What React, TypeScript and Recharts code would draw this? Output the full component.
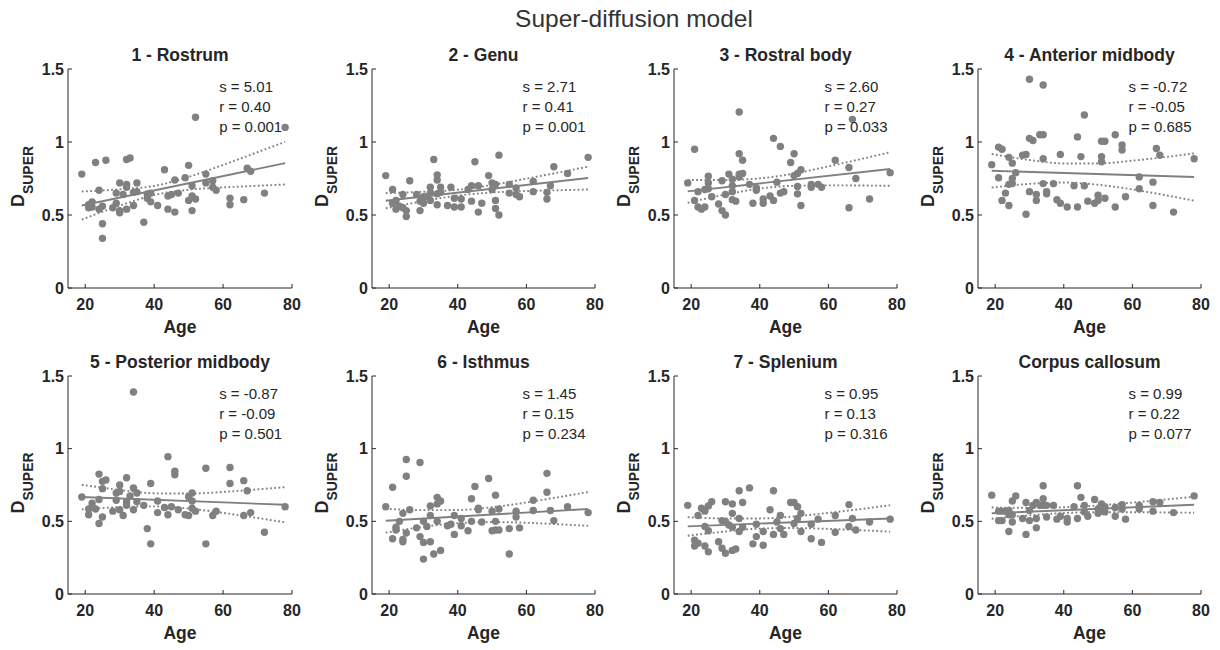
import { ComposedChart, Line, Scatter, XAxis, YAxis } from 'recharts';

const FONT = '"Liberation Sans", Arial, Helvetica, sans-serif';
const INK = '#262626';
const GREY = '#808080';

const ageTicks = [20, 40, 60, 80];
const dTicks = [0, 0.5, 1, 1.5];
const fitAges = [19, 78];
const ciAges = [19, 30, 40, 50, 60, 70, 78];

// scatter points, [age, D_SUPER]
const rostrum = [[19,0.78],[21,0.57],[21,0.55],[22,0.59],[22,0.555],[23,0.86],[24,0.67],[24,0.54],[25,0.56],[25,0.44],[25,0.34],[26,0.875],[28,0.55],[29,0.65],[29,0.58],[30,0.72],[30,0.53],[30,0.515],[31,0.64],[32,0.88],[32,0.71],[32,0.69],[32,0.54],[33,0.89],[34,0.655],[34,0.565],[35,0.72],[35,0.66],[37,0.45],[38,0.645],[38,0.615],[39,0.65],[39,0.59],[41,0.565],[43,0.81],[44,0.63],[44,0.54],[45,0.64],[46,0.74],[46,0.52],[47,0.65],[49,0.755],[50,0.84],[50,0.6],[51,0.7],[51,0.63],[51,0.53],[52,1.17],[52,0.61],[55,0.78],[55,0.72],[57,0.735],[57,0.69],[58,0.67],[62,0.615],[62,0.57],[66,0.605],[67,0.82],[68,0.8],[72,0.65],[78,1.1]];
const genu = [[19,0.77],[21,0.675],[21,0.58],[22,0.6],[22,0.54],[23,0.56],[24,0.64],[24,0.55],[25,0.53],[25,0.49],[26,0.735],[28,0.64],[29,0.595],[29,0.53],[30,0.625],[30,0.58],[31,0.625],[32,0.69],[32,0.65],[32,0.6],[33,0.88],[34,0.775],[34,0.74],[34,0.645],[34,0.57],[35,0.69],[35,0.655],[37,0.565],[38,0.69],[39,0.615],[39,0.555],[41,0.61],[41,0.555],[43,0.675],[44,0.7],[44,0.595],[45,0.865],[46,0.7],[46,0.52],[47,0.58],[49,0.77],[50,0.72],[50,0.675],[51,0.71],[51,0.6],[51,0.545],[52,0.91],[52,0.5],[55,0.71],[55,0.65],[57,0.685],[57,0.64],[58,0.625],[62,0.73],[62,0.66],[66,0.655],[66,0.61],[67,0.7],[68,0.83],[72,0.785],[78,0.895]];
const rostralBody = [[19,0.72],[21,0.95],[21,0.6],[22,0.66],[22,0.555],[23,0.54],[24,0.675],[24,0.555],[25,0.765],[25,0.72],[25,0.68],[26,0.625],[28,0.575],[29,0.735],[29,0.53],[30,0.64],[30,0.5],[31,0.78],[32,0.745],[32,0.7],[32,0.66],[32,0.605],[33,0.595],[34,1.205],[34,0.92],[34,0.78],[34,0.76],[35,0.875],[35,0.785],[37,0.71],[38,0.58],[39,0.685],[39,0.67],[41,0.61],[41,0.58],[43,0.63],[44,1.025],[44,0.6],[45,0.725],[46,0.97],[46,0.65],[47,0.66],[49,0.86],[50,0.92],[50,0.77],[51,0.785],[51,0.695],[51,0.645],[52,0.81],[52,0.565],[55,0.71],[55,0.69],[57,0.71],[58,0.69],[62,0.875],[66,0.825],[66,0.55],[67,1.155],[68,0.75],[72,0.61],[78,0.79]];
const anteriorMid = [[19,0.845],[21,0.965],[21,0.755],[22,0.95],[22,0.6],[23,0.65],[24,0.895],[24,0.71],[24,0.565],[25,0.855],[25,0.75],[25,0.715],[26,0.79],[28,0.91],[29,0.915],[29,0.505],[30,1.43],[30,1.025],[30,0.66],[31,1.01],[32,0.64],[32,0.6],[33,1.05],[34,1.39],[34,1.05],[34,0.885],[34,0.715],[35,0.66],[35,0.645],[37,0.715],[38,0.605],[39,0.915],[39,0.58],[41,0.555],[43,0.7],[44,1.035],[44,0.555],[45,0.9],[46,1.185],[46,0.7],[47,0.595],[49,0.58],[50,0.635],[50,0.6],[51,1.005],[51,0.9],[51,0.865],[52,1.005],[52,0.615],[55,1.05],[55,0.555],[57,0.98],[57,0.945],[58,0.625],[62,0.76],[62,0.68],[66,0.725],[66,0.565],[67,0.955],[68,0.91],[72,0.52],[78,0.885]];
const posteriorMid = [[19,0.667],[21,0.585],[21,0.545],[22,0.625],[22,0.6],[23,0.585],[24,0.825],[24,0.65],[24,0.485],[25,0.775],[25,0.725],[25,0.53],[26,0.785],[28,0.57],[29,0.695],[29,0.645],[30,0.75],[30,0.705],[30,0.58],[31,0.54],[32,0.8],[32,0.635],[32,0.61],[33,0.675],[34,1.39],[34,0.73],[34,0.58],[35,0.695],[35,0.635],[37,0.61],[38,0.45],[39,0.76],[39,0.345],[41,0.64],[41,0.56],[43,0.595],[44,0.945],[44,0.545],[45,0.6],[46,0.845],[46,0.82],[47,0.58],[49,0.545],[50,0.67],[50,0.54],[51,0.695],[51,0.64],[51,0.59],[52,0.57],[55,0.865],[55,0.345],[57,0.54],[58,0.57],[62,0.87],[62,0.76],[66,0.78],[66,0.54],[67,0.71],[68,0.56],[72,0.425],[78,0.6]];
const isthmus = [[19,0.6],[21,0.735],[21,0.38],[22,0.46],[22,0.44],[23,0.5],[24,0.555],[24,0.375],[24,0.36],[25,0.925],[25,0.81],[25,0.42],[26,0.58],[28,0.455],[29,0.905],[29,0.395],[30,0.5],[30,0.355],[30,0.24],[31,0.465],[32,0.605],[32,0.54],[32,0.36],[33,0.275],[34,0.665],[34,0.62],[34,0.5],[35,0.64],[35,0.3],[37,0.47],[38,0.48],[39,0.54],[39,0.41],[41,0.52],[41,0.47],[43,0.435],[44,0.655],[44,0.5],[45,0.74],[46,0.59],[46,0.58],[47,0.495],[49,0.795],[50,0.57],[50,0.435],[51,0.68],[51,0.5],[51,0.44],[52,0.585],[52,0.44],[55,0.45],[55,0.275],[57,0.57],[57,0.53],[58,0.455],[62,0.645],[62,0.575],[66,0.83],[66,0.7],[67,0.575],[68,0.505],[72,0.6],[78,0.56]];
const splenium = [[19,0.61],[21,0.37],[21,0.33],[22,0.54],[22,0.35],[23,0.59],[24,0.57],[24,0.465],[24,0.33],[25,0.605],[25,0.435],[25,0.29],[26,0.635],[28,0.36],[29,0.505],[29,0.315],[30,0.635],[30,0.5],[30,0.28],[31,0.475],[32,0.62],[32,0.555],[32,0.46],[32,0.3],[33,0.31],[34,0.71],[34,0.52],[34,0.43],[35,0.63],[35,0.46],[37,0.73],[38,0.345],[39,0.48],[39,0.395],[41,0.43],[41,0.335],[43,0.58],[44,0.71],[44,0.41],[45,0.495],[46,0.54],[46,0.45],[47,0.41],[49,0.63],[50,0.63],[50,0.485],[51,0.6],[51,0.52],[52,0.555],[52,0.43],[55,0.48],[55,0.38],[57,0.515],[58,0.355],[62,0.54],[62,0.425],[66,0.615],[66,0.465],[67,0.52],[68,0.44],[72,0.495],[78,0.515]];
const corpus = [[19,0.68],[21,0.57],[21,0.505],[22,0.57],[22,0.505],[23,0.57],[24,0.575],[24,0.545],[24,0.43],[25,0.64],[25,0.545],[25,0.495],[26,0.675],[28,0.52],[29,0.63],[29,0.41],[30,0.575],[30,0.505],[31,0.61],[32,0.63],[32,0.52],[32,0.455],[33,0.61],[34,0.745],[34,0.655],[34,0.61],[35,0.61],[35,0.53],[37,0.61],[38,0.515],[39,0.535],[41,0.52],[41,0.495],[43,0.6],[44,0.745],[44,0.52],[45,0.665],[46,0.61],[46,0.565],[47,0.535],[49,0.65],[50,0.585],[50,0.555],[51,0.62],[51,0.57],[52,0.6],[52,0.565],[55,0.595],[55,0.535],[57,0.615],[57,0.585],[58,0.515],[62,0.61],[62,0.585],[66,0.635],[66,0.57],[68,0.63],[72,0.56],[78,0.675]];

// fitted line at fitAges, confidence bounds at ciAges
const fits = [[0.565,0.855],[0.598,0.753],[0.662,0.815],[0.803,0.76],[0.667,0.614],[0.504,0.585],[0.465,0.52],[0.556,0.614]];
const upperCI = [
  [0.661,0.676,0.699,0.761,0.843,0.93,1.001],
  [0.65,0.659,0.673,0.706,0.749,0.794,0.831],
  [0.74,0.74,0.751,0.784,0.833,0.886,0.93],
  [0.918,0.877,0.853,0.853,0.872,0.898,0.922],
  [0.752,0.716,0.693,0.691,0.702,0.72,0.735],
  [0.586,0.577,0.578,0.597,0.63,0.669,0.701],
  [0.529,0.52,0.52,0.534,0.558,0.586,0.611],
  [0.595,0.593,0.597,0.609,0.629,0.651,0.669],
];
const lowerCI = [
  [0.469,0.564,0.637,0.673,0.689,0.7,0.709],
  [0.546,0.595,0.633,0.654,0.664,0.67,0.675],
  [0.584,0.64,0.681,0.7,0.703,0.702,0.7],
  [0.688,0.713,0.723,0.707,0.675,0.634,0.598],
  [0.582,0.598,0.603,0.588,0.558,0.523,0.493],
  [0.422,0.462,0.488,0.495,0.49,0.479,0.469],
  [0.401,0.43,0.45,0.454,0.448,0.438,0.429],
  [0.518,0.541,0.557,0.563,0.563,0.561,0.559],
];

const titles = ['1 - Rostrum', '2 - Genu', '3 - Rostral body', '4 - Anterior midbody', '5 - Posterior midbody', '6 - Isthmus', '7 - Splenium', 'Corpus callosum'];
const slopes = ['5.01', '2.71', '2.60', '-0.72', '-0.87', '1.45', '0.95', '0.99'];
const rValues = ['0.40', '0.41', '0.27', '-0.05', '-0.09', '0.15', '0.13', '0.22'];
const pValues = ['0.001', '0.001', '0.033', '0.685', '0.501', '0.234', '0.316', '0.077'];
const regions = [rostrum, genu, rostralBody, anteriorMid, posteriorMid, isthmus, splenium, corpus];

const colLeft = [68, 372, 674, 978];
const colWidth = [224, 223, 223, 223];
const rowTop = [69, 376];
const rowHeight = [219, 218];

const toPoints = (pairs: number[][]) => pairs.map(([age, v]) => ({ age, v }));
const toSeries = (ages: number[], vals: number[]) => ages.map((age, i) => ({ age, v: vals[i] }));

const Dot = (props: any) => <circle cx={props.cx} cy={props.cy} r={3.7} fill={GREY} />;

const tickStyle = { fill: INK, fontSize: 16, fontWeight: 700, fontFamily: FONT };

function Panel({ i }: { i: number }) {
  const left = colLeft[i % 4];
  const top = rowTop[Math.floor(i / 4)];
  const w = colWidth[i % 4];
  const h = rowHeight[Math.floor(i / 4)];
  const lineProps = { stroke: GREY, strokeWidth: 1.9, dot: false, activeDot: false, isAnimationActive: false };
  return (
    <div style={{ position: 'absolute', left: left - 60, top: top - 10 }}>
      <ComposedChart width={w + 70} height={h + 50} margin={{ top: 10, right: 10, bottom: 0, left: 0 }}>
        <XAxis dataKey="age" type="number" domain={[15, 80]} ticks={ageTicks} allowDataOverflow height={40} tickSize={-4} tickMargin={15} stroke={INK} tick={tickStyle} />
        <XAxis xAxisId="top" orientation="top" type="number" domain={[15, 80]} ticks={ageTicks} allowDataOverflow height={0} tickSize={-4} tick={false} stroke={INK} />
        <YAxis dataKey="v" type="number" domain={[0, 1.5]} ticks={dTicks} allowDataOverflow width={60} tickSize={-4} tickMargin={8} stroke={INK} tick={tickStyle} />
        <YAxis yAxisId="right" orientation="right" type="number" domain={[0, 1.5]} ticks={dTicks} allowDataOverflow width={0} tickSize={-4} tick={false} stroke={INK} />
        <Scatter data={toPoints(regions[i])} shape={Dot} isAnimationActive={false} />
        <Line data={toSeries(ciAges, upperCI[i])} dataKey="v" type="monotone" strokeDasharray="1.8 2.4" {...lineProps} />
        <Line data={toSeries(ciAges, lowerCI[i])} dataKey="v" type="monotone" strokeDasharray="1.8 2.4" {...lineProps} />
        <Line data={toSeries(fitAges, fits[i])} dataKey="v" type="linear" {...lineProps} />
      </ComposedChart>
    </div>
  );
}

function Labels({ i }: { i: number }) {
  const left = colLeft[i % 4];
  const top = rowTop[Math.floor(i / 4)];
  const w = colWidth[i % 4];
  const h = rowHeight[Math.floor(i / 4)];
  const statX = left + w * 0.675;
  return (
    <g fontFamily={FONT} fill={INK}>
      <text x={left + w / 2} y={top - 8.5} textAnchor="middle" fontSize={17.5} fontWeight={700}>{titles[i]}</text>
      <text x={left + w / 2} y={top + h + 45} textAnchor="middle" fontSize={17.5} fontWeight={700}>Age</text>
      <text transform={`translate(${left - 44}, ${top + h / 2 - 2}) rotate(-90)`} textAnchor="middle" fontSize={18} fontWeight={700}>
        D<tspan fontSize={14} dy={8.5}>SUPER</tspan>
      </text>
      <text x={statX} y={top + 22.5} fontSize={15}>{`s = ${slopes[i]}`}</text>
      <text x={statX} y={top + 42.5} fontSize={15}>{`r = ${rValues[i]}`}</text>
      <text x={statX} y={top + 62.5} fontSize={15}>{`p = ${pValues[i]}`}</text>
    </g>
  );
}

export default function App() {
  const idx = [0, 1, 2, 3, 4, 5, 6, 7];
  return (
    <div style={{ position: 'absolute', left: 0, top: 0, width: 1220, height: 650, background: '#fff', overflow: 'hidden' }}>
      {idx.map((i) => <Panel key={i} i={i} />)}
      <svg width={1220} height={650} style={{ position: 'absolute', left: 0, top: 0, pointerEvents: 'none' }}>
        <text x={634} y={27} textAnchor="middle" fontFamily={FONT} fontSize={24.5} fill="#333">Super-diffusion model</text>
        {idx.map((i) => <Labels key={i} i={i} />)}
      </svg>
    </div>
  );
}
